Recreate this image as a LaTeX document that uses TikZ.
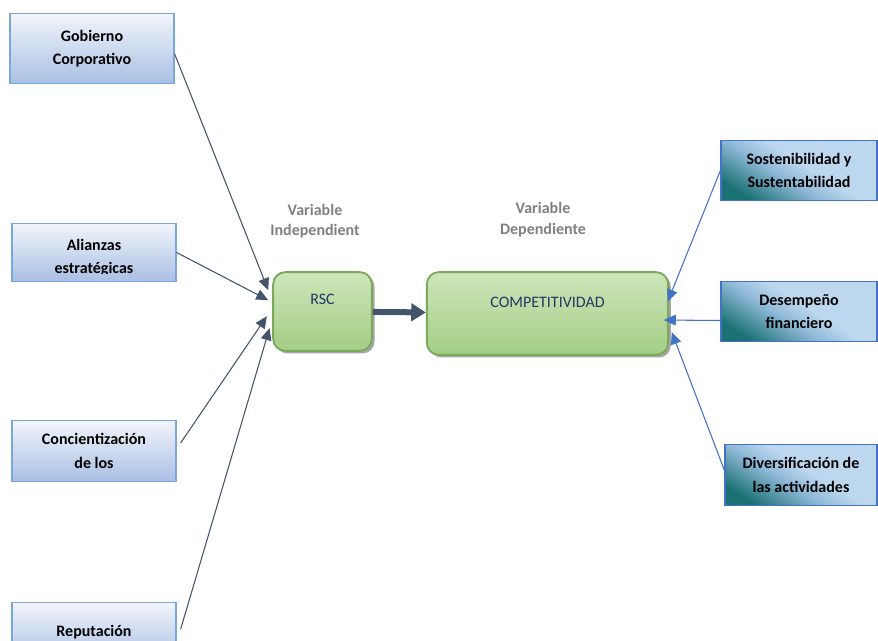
\documentclass[tikz,border=0pt]{standalone}
\usepackage{fontspec}
\setmainfont{Carlito}
\usetikzlibrary{positioning, calc, arrows.meta, shadows}
\definecolor{factortop}{HTML}{F2F5FB}
\definecolor{factorbot}{HTML}{A9BFE4}
\definecolor{factorline}{HTML}{79A7DC}
\definecolor{resulttop}{HTML}{BDD7EE}
\definecolor{resultmid}{HTML}{8FB9D8}
\definecolor{resultbot}{HTML}{1A7173}
\definecolor{resultline}{HTML}{4472C4}
\definecolor{coretop}{HTML}{CDE6BA}
\definecolor{corebot}{HTML}{A3CD86}
\definecolor{coreline}{HTML}{7BA85A}
\definecolor{coretext}{HTML}{1F3864}
\definecolor{slate}{HTML}{44546A}
\definecolor{varlabel}{HTML}{808080}
\pgfdeclareverticalshading{resultshade}{100bp}{color(0bp)=(resultbot); color(24bp)=(resultbot);
  color(43bp)=(resultmid); color(54bp)=(resulttop); color(100bp)=(resulttop)}
\tikzset{>={Triangle[length=9pt,width=8pt]}}
\tikzset{boxfont/.style={font=\fontsize{12}{17.5}\selectfont\bfseries, align=center}}
\tikzset{factor/.style={draw=factorline, line width=0.9pt, top color=factortop, bottom color=factorbot,
          minimum width=123pt, inner sep=0pt, boxfont}}
\tikzset{result/.style={draw=resultline, line width=0.9pt, shading=resultshade, shading angle=-32,
          minimum height=45pt, inner sep=0pt, boxfont}}
\tikzset{core/.style={draw=coreline, line width=1.4pt, rounded corners=9pt, top color=coretop, bottom color=corebot,
          drop shadow={shadow xshift=2pt, shadow yshift=-2pt, fill=black, opacity=0.35}}}
\tikzset{inner text/.style 2 args={path picture={
          \clip (path picture bounding box.north west) rectangle ([yshift=6pt]path picture bounding box.south east);
          \node[boxfont] at ([yshift=#1]path picture bounding box.center) {#2};}}}
\tikzset{core text/.style 2 args={path picture={
          \node[font=\fontsize{12}{14}\selectfont, text=coretext] at ([yshift=#1]path picture bounding box.center) {#2};}}}
\tikzset{varname/.style={font=\fontsize{12}{15.5}\selectfont\bfseries, text=varlabel, align=center}}

\begin{document}
\begin{tikzpicture}[x=0.75pt, y=-0.75pt]
    \useasboundingbox (0,0) rectangle (878,641);

    % left factors
    \node[factor, minimum height=53pt] (gob) at (92,48.5) {Gobierno\\Corporativo};
    \node[factor, minimum height=44pt, inner text={-4pt}{Alianzas\\estratégicas}] (ali) at (94,252.5) {};
    \node[factor, minimum height=46pt] (con) at (94,451) {Concientización\\de los};
    \node[factor, minimum height=44pt] (rep) at (94,632) {Reputación};

    % variables
    \node[core, minimum width=74pt, minimum height=59pt, core text={9.4pt}{RSC}] (rsc) at (322.5,311.5) {};
    \node[core, minimum width=181pt, minimum height=62pt, core text={8.6pt}{COMPETITIVIDAD}] (comp) at (547.5,313.5) {};
    \node[varname] (v-ind) at (315,221) {Variable\\Independient};
    \node[varname] (v-dep) at (543,219.5) {Variable\\Dependiente};

    % right results
    \node[result, minimum width=117pt] (sos) at (799,170.5) {Sostenibilidad y\\Sustentabilidad};
    \node[result, minimum width=117pt] (des) at (799,311.5) {Desempeño\\financiero};
    \node[result, minimum width=114pt, minimum height=46pt] (div) at (801,475) {Diversificación de\\las actividades};

    % connectors
    \draw[->, slate, line width=0.8pt] ([yshift=-4pt]gob.east) to ([xshift=-3pt, yshift=16pt]rsc.west);
    \draw[->, slate, line width=0.8pt] (ali.east) to ([xshift=-3pt, yshift=8.5pt]rsc.west);
    \draw[->, slate, line width=0.8pt] ([xshift=3pt, yshift=6pt]con.east) to ([xshift=-4pt, yshift=-3.5pt]rsc.west);
    \draw[->, slate, line width=0.8pt] ([xshift=3pt, yshift=2pt]rep.east) to ([xshift=-2pt, yshift=-12.5pt]rsc.west);

    \draw[-{Triangle[length=11pt,width=13pt]}, slate, line width=4.5pt] (rsc) to (comp);

    \draw[->, resultline, line width=0.8pt] (sos.west) to ([xshift=-1pt, yshift=9pt]comp.east);
    \draw[->, resultline, line width=0.8pt] ([yshift=-6.75pt]des.west) to ([xshift=-4pt, yshift=-4.9pt]comp.east);
    \draw[->, resultline, line width=0.8pt] ([yshift=3.5pt]div.west) to ([xshift=2pt, yshift=-14pt]comp.east);
\end{tikzpicture}
\end{document}
